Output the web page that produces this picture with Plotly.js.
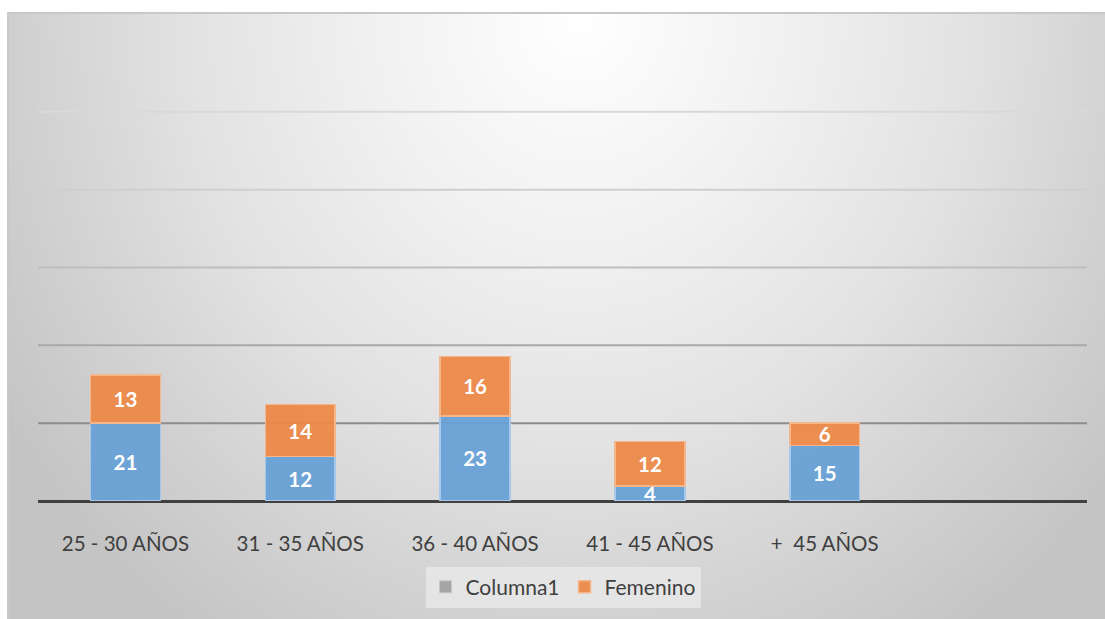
<!DOCTYPE html>
<html>
<head>
<meta charset="utf-8">
<script src="https://cdn.plot.ly/plotly-3.0.1.min.js"></script>
<style>
  html, body { margin: 0; padding: 0; background: #ffffff; }
  #frame {
    position: absolute; left: 7px; top: 12px; width: 1098px; height: 607px;
    box-sizing: border-box;
    border-top: 2px solid #c8c8c8; border-left: 2px solid #c8c8c8;
    background: radial-gradient(ellipse 62% 125% at 52% 0%, #ffffff 0%, #f1f1f1 30%, #e2e2e2 58%, #d2d2d2 80%, #c4c4c4 100%);
  }
  #chart { position: absolute; left: 0; top: 0; width: 1105px; height: 619px; }
</style>
</head>
<body>
<div id="frame"></div>
<div id="chart"></div>
<script>
// ---- data ----
const categories = ["25 - 30 AÑOS", "31 - 35 AÑOS", "36 - 40 AÑOS", "41 - 45 AÑOS", "+  45 AÑOS"];
const blueValues = [21, 12, 23, 4, 15];
const femenino = [13, 14, 16, 12, 6];
const columna1 = [null, null, null, null, null];

const xs = categories.map((_, i) => i);
const step = 21;
const gridColors = ["#8c8c8c", "#a8a8a8", "#bebebe", "#cfcfcf", "#d9d9d9"];

const labelFont = { family: "Lato, 'Open Sans', sans-serif", size: 20.5, color: "#ffffff", weight: "bold" };

const traces = [
  {
    type: "bar", x: xs, y: blueValues, name: "Masculino", showlegend: false,
    text: blueValues.map(String), textposition: "inside", insidetextanchor: "middle",
    textangle: 0, constraintext: "none", textfont: labelFont,
    marker: { color: "rgba(104,160,214,0.95)", line: { color: "#a7c8ea", width: 1.5 } },
    hoverinfo: "skip"
  },
  {
    type: "bar", x: xs, y: columna1, name: "Columna1",
    marker: { color: "#a5a5a5", line: { color: "#c8c8c8", width: 1 } },
    hoverinfo: "skip"
  },
  {
    type: "bar", x: xs, y: femenino, name: "Femenino",
    text: femenino.map(String), textposition: "inside", insidetextanchor: "middle",
    textangle: 0, constraintext: "none", textfont: labelFont,
    marker: { color: "rgba(236,137,72,0.95)", line: { color: "#f5b68c", width: 1.5 } },
    hoverinfo: "skip"
  }
];

const shapes = gridColors.map((c, k) => ({
  type: "line", xref: "paper", x0: 0, x1: 1, yref: "y",
  y0: (k + 1) * step, y1: (k + 1) * step,
  line: { color: c, width: 2 }, layer: "below"
}));

const layout = {
  width: 1105, height: 619,
  margin: { l: 38, r: 18, t: 34, b: 117 },
  paper_bgcolor: "rgba(0,0,0,0)",
  plot_bgcolor: "rgba(0,0,0,0)",
  barmode: "stack",
  bargap: 0.6,
  font: { family: "Lato, 'Open Sans', sans-serif", size: 20.5, color: "#404040" },
  xaxis: {
    range: [-0.5, 5.5], tickvals: xs, ticktext: categories,
    showgrid: false, zeroline: false, showline: false, ticks: "",
    ticklabelstandoff: 28,
    tickfont: { size: 20.5, color: "#404040" }, fixedrange: true
  },
  yaxis: {
    range: [0, 6 * step], showgrid: false, showticklabels: false,
    zeroline: true, zerolinecolor: "#404040", zerolinewidth: 3,
    showline: false, ticks: "", fixedrange: true
  },
  shapes: shapes,
  legend: {
    orientation: "h", x: 0.5005, xanchor: "center", y: -0.182, yanchor: "middle",
    bgcolor: "rgba(232,232,232,0.85)", borderwidth: 0,
    font: { size: 21, color: "#404040" },
    itemwidth: 30, traceorder: "normal", tracegroupgap: 0
  },
  showlegend: true
};

Plotly.newPlot("chart", traces, layout, { displayModeBar: false, staticPlot: true });
</script>
</body>
</html>
